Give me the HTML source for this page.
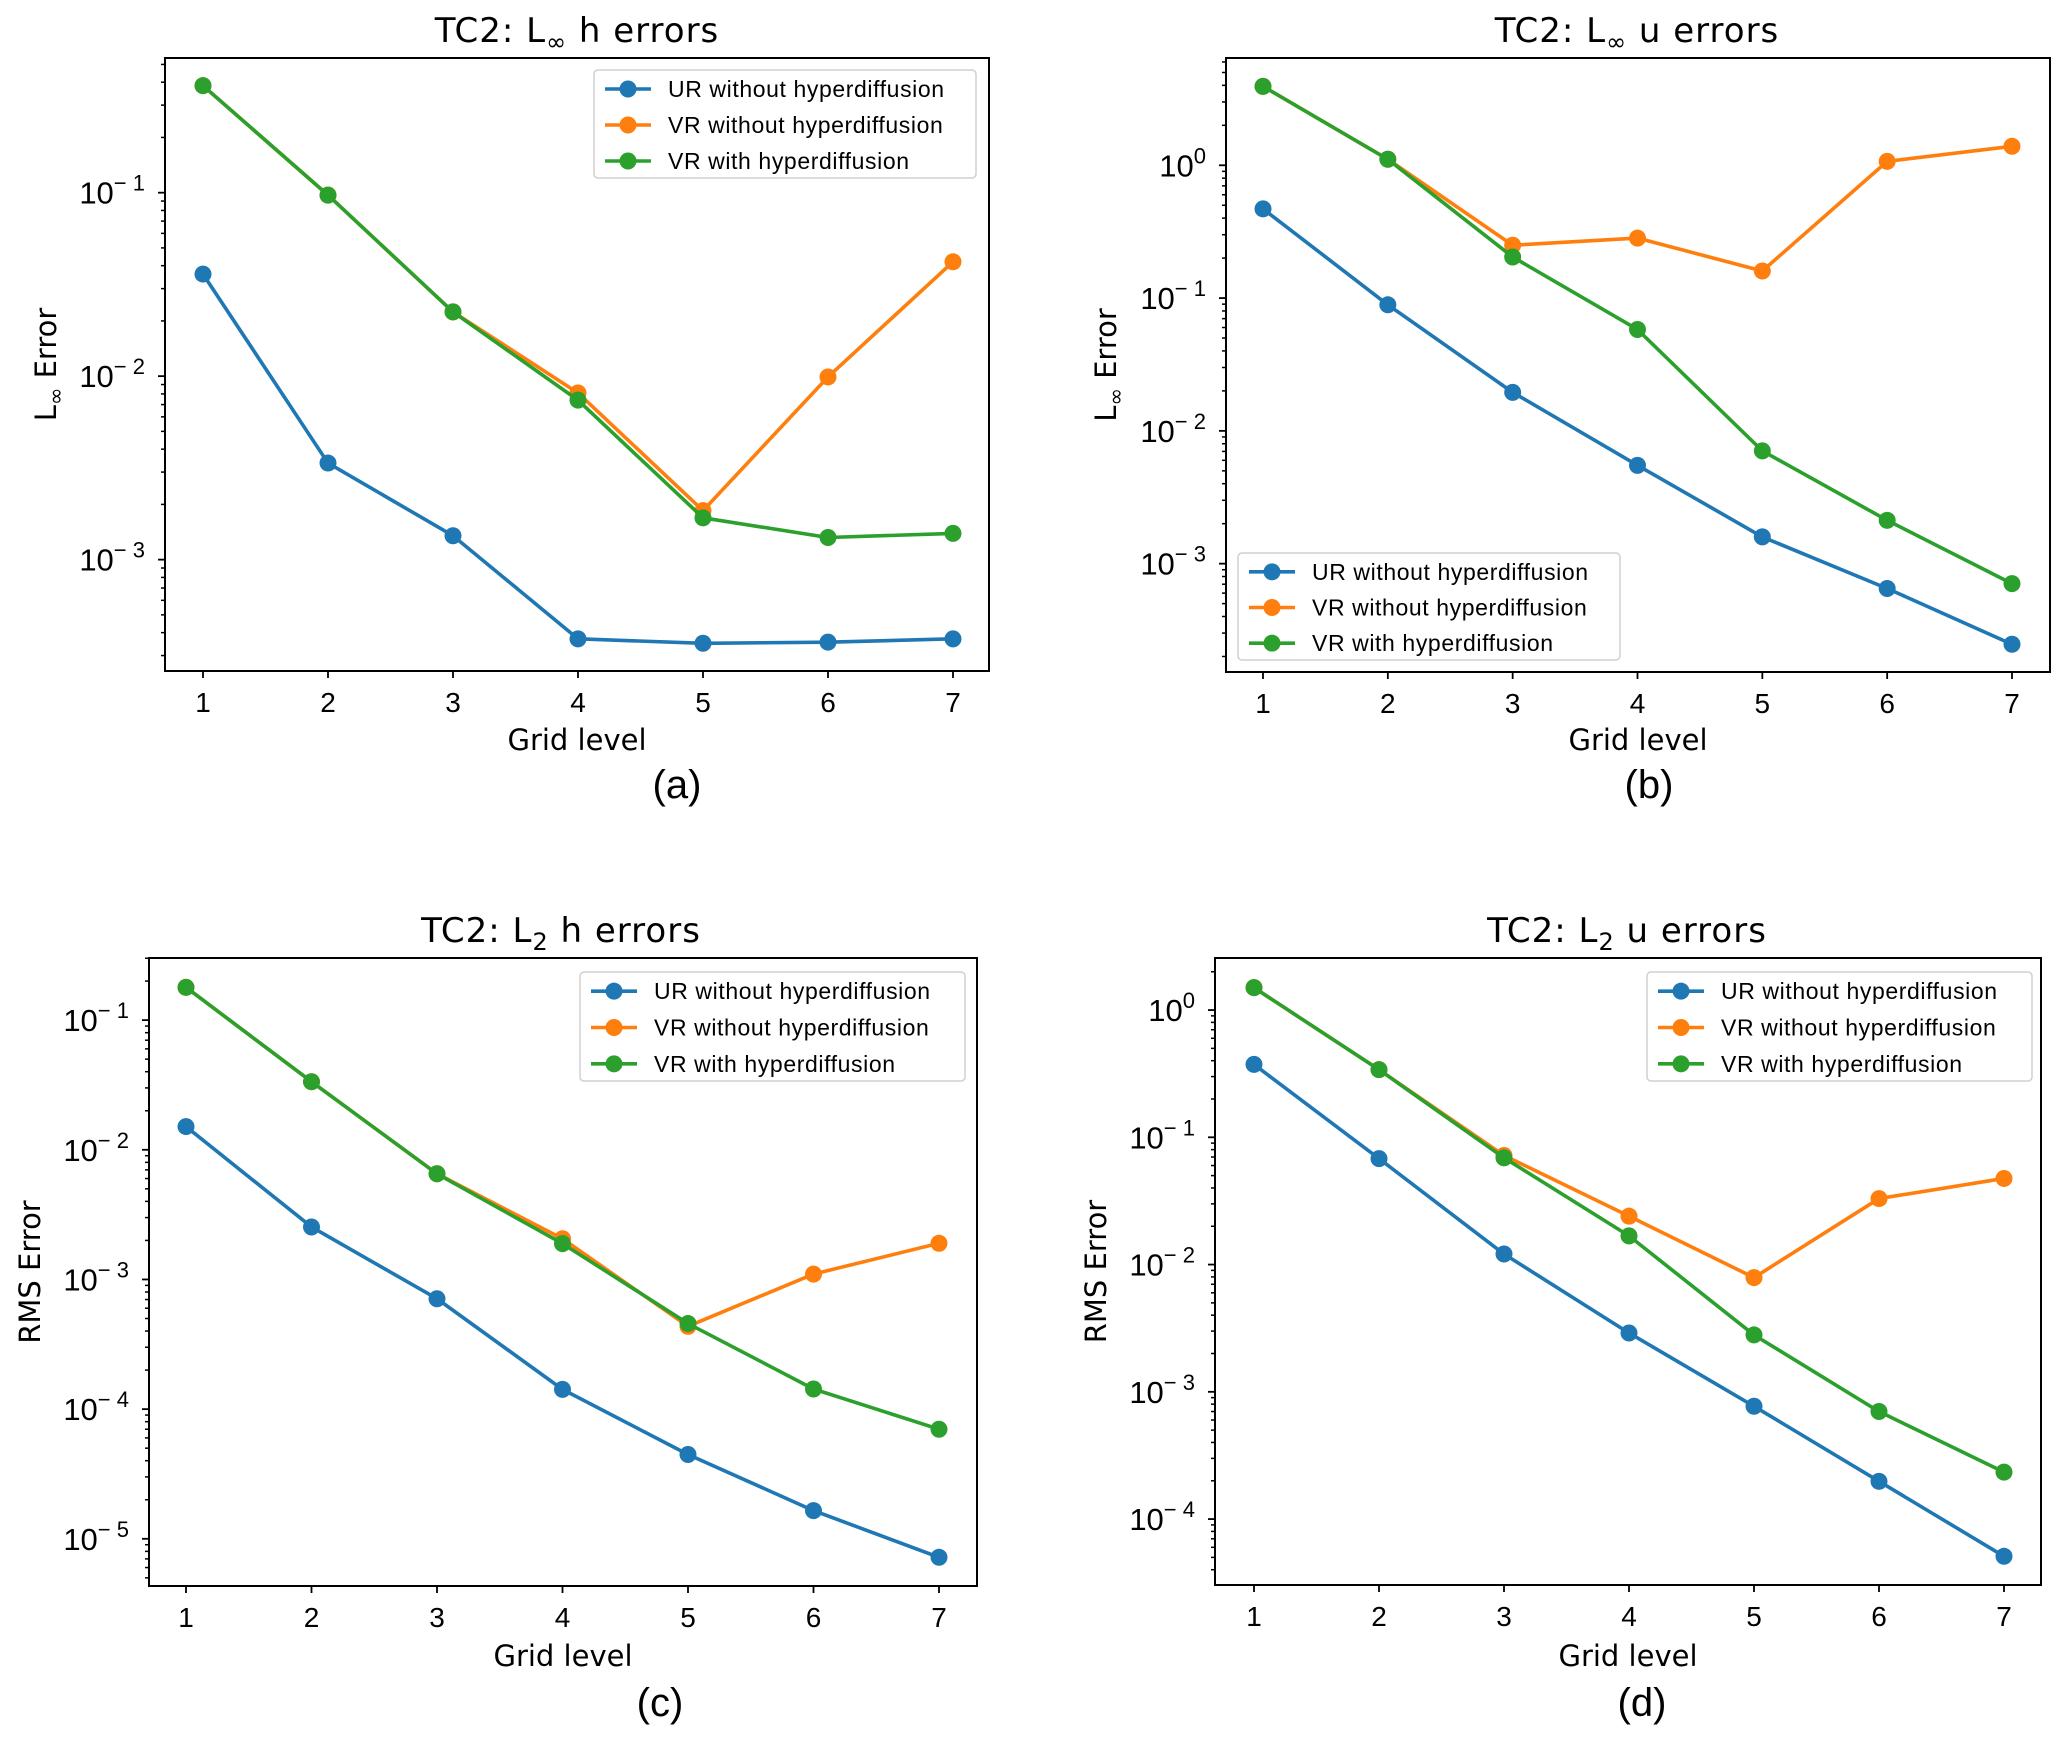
<!DOCTYPE html>
<html><head><meta charset="utf-8">
<style>
html,body{margin:0;padding:0;background:#fff;}
svg{display:block;}
text{font-family:"Liberation Sans","DejaVu Sans",sans-serif;fill:#000;}
.ttl{font-family:"DejaVu Sans","Liberation Sans",sans-serif;font-size:34px;letter-spacing:1px;}
.lab{font-family:"DejaVu Sans","Liberation Sans",sans-serif;font-size:29px;}
</style></head>
<body>
<svg id="fig" width="2067" height="1741" viewBox="0 0 2067 1741" xmlns="http://www.w3.org/2000/svg"></svg>
<script>
// ---- data ----
const gridLevels = [1,2,3,4,5,6,7];
const seriesNames = ["UR without hyperdiffusion","VR without hyperdiffusion","VR with hyperdiffusion"];
const seriesColors = ["#1f77b4","#ff7f0e","#2ca02c"];
// (a) L-inf h errors
const aUR = [0.036,0.00336,0.00135,0.00037,0.00035,0.000355,0.00037];
const aVRno = [0.383,0.097,0.0224,0.0081,0.00185,0.0099,0.042];
const aVRhd = [0.383,0.097,0.0224,0.0074,0.00169,0.00132,0.00139];
// (b) L-inf u errors
const bUR = [0.47,0.089,0.0195,0.0055,0.00159,0.00065,0.000247];
const bVRno = [3.93,1.11,0.25,0.283,0.16,1.07,1.39];
const bVRhd = [3.93,1.11,0.204,0.058,0.00707,0.00212,0.000707];
// (c) L2 h errors
const cUR = [0.0151,0.00254,0.00071,0.000142,0.0000447,0.0000165,0.0000072];
const cVRno = [0.179,0.0335,0.00653,0.00206,0.000435,0.0011,0.0019];
const cVRhd = [0.179,0.0335,0.00653,0.00189,0.000457,0.000143,0.00007];
// (d) L2 u errors
const dUR = [0.374,0.068,0.0121,0.0029,0.00077,0.000198,0.000051];
const dVRno = [1.5,0.34,0.072,0.024,0.0079,0.033,0.0475];
const dVRhd = [1.5,0.34,0.069,0.0168,0.0028,0.0007,0.000234];
// axis limits (log10) and tick exponents
const aYlim = [-3.607,-0.266]; const aTicks = [-1,-2,-3];
const bYlim = [-3.816,0.808]; const bTicks = [0,-1,-2,-3];
const cYlim = [-5.364,-0.521]; const cTicks = [-1,-2,-3,-4,-5];
const dYlim = [-4.518,0.409]; const dTicks = [0,-1,-2,-3,-4];

const panels = [
 {id:"a",box:[165,58,989,671],x1:203,x7:953,ylim:aYlim,ticks:aTicks,data:[aUR,aVRno,aVRhd],
  title:["TC2:  L","∞"," h errors"],titleX:577,titleY:42,ylab:["L","∞"," Error"],ylabX:46,
  gridY:750,tagX:677,tagY:798,tag:"(a)",leg:[594,70,976,178]},
 {id:"b",box:[1226,58,2050,672],x1:1263,x7:2012,ylim:bYlim,ticks:bTicks,data:[bUR,bVRno,bVRhd],
  title:["TC2:  L","∞"," u errors"],titleX:1637,titleY:42,ylab:["L","∞"," Error"],ylabX:1106,
  gridY:750,tagX:1649,tagY:798,tag:"(b)",leg:[1238,553,1620,660]},
 {id:"c",box:[149,958,977,1586],x1:186,x7:939,ylim:cYlim,ticks:cTicks,data:[cUR,cVRno,cVRhd],
  title:["TC2:  L","2"," h errors"],titleX:561,titleY:942,ylab:["RMS Error"],ylabX:30,
  gridY:1666,tagX:660,tagY:1716,tag:"(c)",leg:[580,972,965,1081]},
 {id:"d",box:[1215,958,2041,1585],x1:1254,x7:2004,ylim:dYlim,ticks:dTicks,data:[dUR,dVRno,dVRhd],
  title:["TC2:  L","2"," u errors"],titleX:1627,titleY:942,ylab:["RMS Error"],ylabX:1096,
  gridY:1666,tagX:1642,tagY:1716,tag:"(d)",leg:[1647,972,2032,1081]}
];
const NS="http://www.w3.org/2000/svg";
const fig=document.getElementById("fig");
function mk(tag,attrs,parent){const e=document.createElementNS(NS,tag);for(const k in attrs)e.setAttribute(k,attrs[k]);(parent||fig).appendChild(e);return e;}

panels.forEach(p=>{
  const g=mk("g",{});
  
  
  const [L,T,R,B]=p.box;
  const xs=v=>p.x1+(v-1)*(p.x7-p.x1)/6;
  const ys=v=>{const lv=Math.log10(v);return B-(lv-p.ylim[0])/(p.ylim[1]-p.ylim[0])*(B-T);};
  for(let e=Math.floor(p.ylim[0]);e<=Math.ceil(p.ylim[1]);e++){
    for(let m=2;m<=9;m++){const v=m*Math.pow(10,e);const y=ys(v);
      if(y>=T&&y<=B){const t=mk("line",{x1:L-4,x2:L,y1:y,y2:y,stroke:"#000","stroke-width":1.5},g);
        }}
  }
  p.ticks.forEach(e=>{const y=ys(Math.pow(10,e));
    const t=mk("line",{x1:L-7,x2:L,y1:y,y2:y,stroke:"#000","stroke-width":1.8},g);
    
    const tx=mk("text",{x:L-20,y:y+11,"text-anchor":"end","font-size":31},g);
    
    const s1=mk("tspan",{},tx);s1.textContent="10";
    const s2=mk("tspan",{dy:-13,"font-size":22},tx);s2.textContent=(e<0?"\u2212 ":"")+Math.abs(e);
  });
  gridLevels.forEach(v=>{const x=xs(v);
    const t=mk("line",{x1:x,x2:x,y1:B,y2:B+7,stroke:"#000","stroke-width":1.8},g);
    
    const tx=mk("text",{x:x,y:B+41,"text-anchor":"middle","font-size":28},g);
    
    tx.textContent=v;});
  p.data.forEach((arr,si)=>{
    const sg=mk("g",{},g);
    
    
    const pts=arr.map((v,i)=>xs(gridLevels[i])+","+ys(v)).join(" ");
    const pl=mk("polyline",{points:pts,fill:"none",stroke:seriesColors[si],"stroke-width":3.6,"stroke-linejoin":"round"},sg);
    
    arr.forEach((v,i)=>{const c=mk("circle",{cx:xs(gridLevels[i]),cy:ys(v),r:8.5,fill:seriesColors[si]},sg);
      });
  });
  const fr=mk("rect",{x:L,y:T,width:R-L,height:B-T,fill:"none",stroke:"#000","stroke-width":2},g);
  
  const [lx,ly,lr,lb]=p.leg;
  const lg=mk("g",{},g);
  
  mk("rect",{x:lx,y:ly,width:lr-lx,height:lb-ly,rx:4,fill:"#fff","fill-opacity":0.85,stroke:"#d0d0d0","stroke-width":1.5},lg);
  const rowH=(lb-ly)/3;
  seriesNames.forEach((n,si)=>{const y=ly+rowH*(si+0.5)+1;
    const e=mk("g",{},lg);
    
    mk("line",{x1:lx+11,x2:lx+57,y1:y,y2:y,stroke:seriesColors[si],"stroke-width":3.6},e);
    mk("circle",{cx:lx+34,cy:y,r:8.5,fill:seriesColors[si]},e);
    const t=mk("text",{x:lx+74,y:y+8,"font-size":23,"letter-spacing":"0.6"},e);t.textContent=n;});
  const tt=mk("text",{x:p.titleX,y:p.titleY,"text-anchor":"middle",class:"ttl"},g);
  
  const t1=mk("tspan",{},tt);t1.textContent=p.title[0];
  const t2=mk("tspan",{dy:8,"font-size":24},tt);t2.textContent=p.title[1];
  const t3=mk("tspan",{dy:-8},tt);t3.textContent=p.title[2];
  const cy=(T+B)/2;
  const yl=mk("text",{x:0,y:0,"text-anchor":"middle",class:"lab",transform:`translate(${p.ylabX+10},${cy}) rotate(-90)`},g);
  
  if(p.ylab.length===1){yl.textContent=p.ylab[0];}
  else{const a=mk("tspan",{},yl);a.textContent=p.ylab[0];const b=mk("tspan",{dy:7,"font-size":21},yl);b.textContent=p.ylab[1];const c=mk("tspan",{dy:-7},yl);c.textContent=p.ylab[2];}
  const xl=mk("text",{x:(L+R)/2,y:p.gridY,"text-anchor":"middle",class:"lab"},g);
  
  xl.textContent="Grid level";
  const tg=mk("text",{x:p.tagX,y:p.tagY,"text-anchor":"middle","font-size":40},g);
  
  tg.textContent=p.tag;
});
</script>
</body></html>
